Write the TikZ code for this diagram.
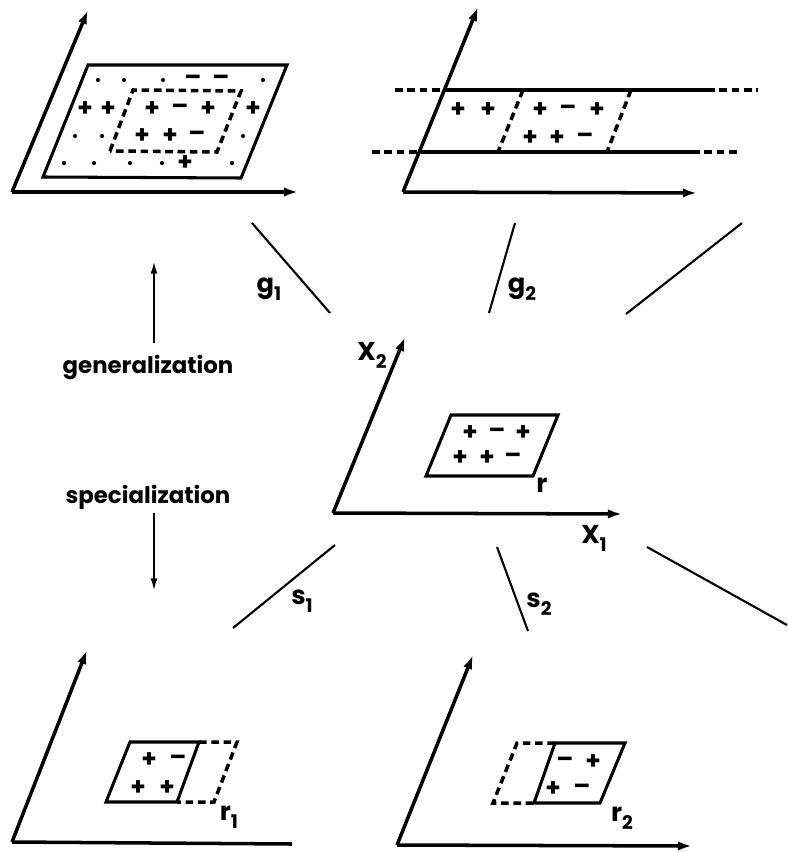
\documentclass[tikz,border=0pt]{standalone}
\usepackage{fontspec}
\setmainfont{Poppins}
\usetikzlibrary{arrows.meta}
\tikzset{
  axis/.style={line width=3pt, -{Latex[length=12pt,width=8pt]}},
  region/.style={line width=2.6pt, line join=miter},
  dashregion/.style={line width=3pt, dash pattern=on 6.5pt off 4pt},
  link/.style={line width=1.8pt},
  sign/.style={font=\fontsize{21}{21}\selectfont\bfseries, inner sep=0pt},
  lbl/.style={font=\fontsize{22}{22}\selectfont\bfseries, inner sep=0pt},
  word/.style={font=\fontsize{19.5}{19.5}\selectfont\bfseries, inner sep=0pt},
}
\newcommand{\ix}[2]{#1\raisebox{-.55ex}{\fontsize{16}{16}\selectfont #2}}

\begin{document}
\begin{tikzpicture}[x=0.03cm, y=-0.03cm]
    \useasboundingbox (0,0) rectangle (787,852);

    % Top left: generalization g1
    \coordinate (tlO) at (12,192);
    \coordinate (tlY) at (88,10);
    \coordinate (tlX) at (298,192);
    \draw[axis] (tlO) -- (tlY);
    \draw[axis] (tlO) -- (tlX);
    \draw[region] (43,177) -- (88,65) -- (287,65) -- (241,178) -- cycle;
    \draw[dashregion] (110,151) -- (133,90) -- (241,91) -- (217,152) -- cycle;
    \foreach \x/\y in {98/80, 124/80, 163/80, 263/80, 75/136, 102/136, 243/136,
                       64/163, 94/163, 130/163, 162/163, 232/163}
        \fill (\x,\y) circle (1.8pt);
    \foreach \x/\y/\s [count=\i] in {193/80/–, 221/80/–,
            85/109/+, 108/109/+, 152/109/+, 180/109/–, 208/109/+, 253/109/+,
            142/136/+, 170/136/+, 197/136/–, 185/163/+}
        \node[sign] (tl\i) at (\x,\y) {\s};

    % Top right: generalization g2
    \coordinate (trO) at (403,192);
    \coordinate (trY) at (478,7);
    \coordinate (trX) at (697,193);
    \draw[axis] (trO) -- (trY);
    \draw[axis] (trO) -- (trX);
    \draw[region] (445,90) -- (707,90);
    \draw[region] (423,152) -- (692,152);
    \draw[dashregion] (395,90) -- (445,90);
    \draw[dashregion] (707,90) -- (758,90);
    \draw[dashregion] (372,152) -- (423,152);
    \draw[dashregion] (692,152) -- (740,152);
    \draw[dashregion] (523,90) -- (498,152);
    \draw[dashregion] (631,90) -- (607,152);
    \foreach \x/\y/\s [count=\i] in {458/110/+, 488/110/+, 540/110/+, 568/110/–, 597/110/+,
            530/138/+, 557/138/+, 585/138/–}
        \node[sign] (tr\i) at (\x,\y) {\s};

    % Centre: rule r
    \coordinate (cO) at (333,513);
    \coordinate (cY) at (405,337);
    \coordinate (cX) at (622,514);
    \draw[axis] (cO) -- (cY);
    \draw[axis] (cO) -- (cX);
    \node[lbl] (X2) at (372,355) {\ix{X}{2}};
    \node[lbl] (X1) at (594,538) {\ix{X}{1}};
    \draw[region] (426,476) -- (451,415) -- (558,415) -- (533,476) -- cycle;
    \node[lbl] (r) at (542,485) {r};
    \foreach \x/\y/\s [count=\i] in {470/433/+, 497/433/–, 523/433/+,
            460/458/+, 487/458/+, 513/458/–}
        \node[sign] (c\i) at (\x,\y) {\s};

    % Bottom left: specialization s1
    \coordinate (blO) at (12,842);
    \coordinate (blY) at (87,650);
    \coordinate (blX) at (292,844);
    \draw[axis] (blO) -- (blY);
    \draw[line width=3pt] (blO) -- (blX);
    \draw[region] (106,802) -- (130,742) -- (199,742) -- (177,802) -- cycle;
    \draw[dashregion] (199,742) -- (237,742) -- (214,802) -- (177,802);
    \foreach \x/\y/\s [count=\i] in {149/760/+, 178/760/–, 138/788/+, 167/788/+}
        \node[sign] (bl\i) at (\x,\y) {\s};
    \node[lbl] (r1) at (229,817) {\ix{r}{1}};

    % Bottom right: specialization s2
    \coordinate (brO) at (397,845);
    \coordinate (brY) at (473,655);
    \coordinate (brX) at (692,846);
    \draw[axis] (brO) -- (brY);
    \draw[axis] (brO) -- (brX);
    \draw[region] (534,803) -- (555,743) -- (625,743) -- (600,803) -- cycle;
    \draw[dashregion] (555,743) -- (517,743) -- (493,803) -- (534,803);
    \foreach \x/\y/\s [count=\i] in {565/762/–, 593/762/+, 553/789/+, 582/789/–}
        \node[sign] (br\i) at (\x,\y) {\s};
    \node[lbl] (r2) at (622,818) {\ix{r}{2}};

    % Links between the panels
    \coordinate (g1a) at (252,223);  \coordinate (g1b) at (330,313);
    \coordinate (g2a) at (515,223);  \coordinate (g2b) at (489,313);
    \coordinate (g3a) at (742,223);  \coordinate (g3b) at (626,314);
    \coordinate (s1a) at (233,628);  \coordinate (s1b) at (335,545);
    \coordinate (s2a) at (497,547);  \coordinate (s2b) at (528,631);
    \coordinate (s3a) at (647,547);  \coordinate (s3b) at (787,625);
    \draw[link] (g1a) -- (g1b);
    \draw[link] (g2a) -- (g2b);
    \draw[link] (g3a) -- (g3b);
    \draw[link] (s1a) -- (s1b);
    \draw[link] (s2a) -- (s2b);
    \draw[link] (s3a) -- (s3b);
    \node[lbl] (g1) at (269,289) {\ix{g}{1}};
    \node[lbl] (g2) at (522,289) {\ix{g}{2}};
    \node[lbl] (s1) at (302,601) {\ix{s}{1}};
    \node[lbl] (s2) at (539,604) {\ix{s}{2}};

    % Direction of search
    \node[word] (gen) at (148,367) {generalization};
    \node[word] (spec) at (148,497) {specialization};
    \coordinate (genTop) at (154,262);
    \coordinate (specBot) at (154,590);
    \draw[link, line width=1.3pt, -{Latex[length=10pt,width=6pt]}] (154,343) -- (genTop);
    \draw[link, line width=1.3pt, -{Latex[length=10pt,width=6pt]}] (154,513) -- (specBot);
\end{tikzpicture}
\end{document}
